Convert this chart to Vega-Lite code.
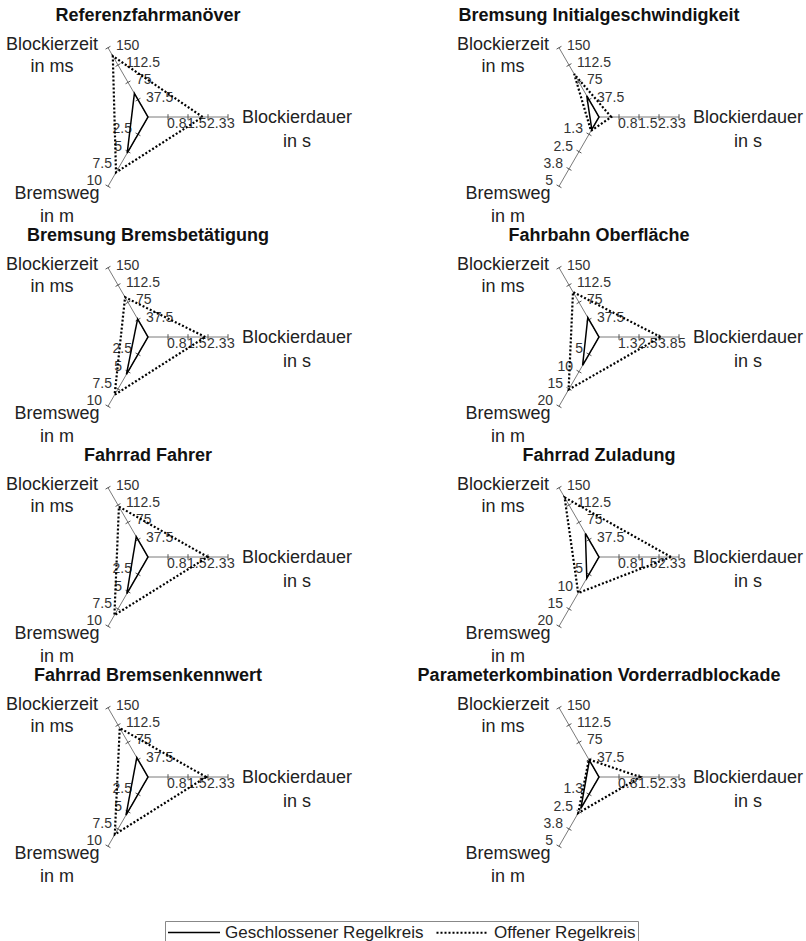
{
  "$schema": "https://vega.github.io/schema/vega-lite/v6.json",
  "padding": {"left": 0, "top": 7, "right": 0, "bottom": 0},
  "background": "white",
  "bounds": "flush",
  "config": {"font": "Liberation Sans", "view": {"stroke": null}},
  "data": {"values": [
    {"kind": "axis", "panel": "Referenzfahrmanöver", "axis": "Blockierzeit", "max": 150, "title": "Blockierzeit\nin ms"},
    {"kind": "axis", "panel": "Referenzfahrmanöver", "axis": "Blockierdauer", "max": 3, "title": "Blockierdauer\nin s"},
    {"kind": "axis", "panel": "Referenzfahrmanöver", "axis": "Bremsweg", "max": 10, "title": "Bremsweg\nin m"},
    {"kind": "axis", "panel": "Bremsung Initialgeschwindigkeit", "axis": "Blockierzeit", "max": 150, "title": "Blockierzeit\nin ms"},
    {"kind": "axis", "panel": "Bremsung Initialgeschwindigkeit", "axis": "Blockierdauer", "max": 3, "title": "Blockierdauer\nin s"},
    {"kind": "axis", "panel": "Bremsung Initialgeschwindigkeit", "axis": "Bremsweg", "max": 5, "title": "Bremsweg\nin m"},
    {"kind": "axis", "panel": "Bremsung Bremsbetätigung", "axis": "Blockierzeit", "max": 150, "title": "Blockierzeit\nin ms"},
    {"kind": "axis", "panel": "Bremsung Bremsbetätigung", "axis": "Blockierdauer", "max": 3, "title": "Blockierdauer\nin s"},
    {"kind": "axis", "panel": "Bremsung Bremsbetätigung", "axis": "Bremsweg", "max": 10, "title": "Bremsweg\nin m"},
    {"kind": "axis", "panel": "Fahrbahn Oberfläche", "axis": "Blockierzeit", "max": 150, "title": "Blockierzeit\nin ms"},
    {"kind": "axis", "panel": "Fahrbahn Oberfläche", "axis": "Blockierdauer", "max": 5, "title": "Blockierdauer\nin s"},
    {"kind": "axis", "panel": "Fahrbahn Oberfläche", "axis": "Bremsweg", "max": 20, "title": "Bremsweg\nin m"},
    {"kind": "axis", "panel": "Fahrrad Fahrer", "axis": "Blockierzeit", "max": 150, "title": "Blockierzeit\nin ms"},
    {"kind": "axis", "panel": "Fahrrad Fahrer", "axis": "Blockierdauer", "max": 3, "title": "Blockierdauer\nin s"},
    {"kind": "axis", "panel": "Fahrrad Fahrer", "axis": "Bremsweg", "max": 10, "title": "Bremsweg\nin m"},
    {"kind": "axis", "panel": "Fahrrad Zuladung", "axis": "Blockierzeit", "max": 150, "title": "Blockierzeit\nin ms"},
    {"kind": "axis", "panel": "Fahrrad Zuladung", "axis": "Blockierdauer", "max": 3, "title": "Blockierdauer\nin s"},
    {"kind": "axis", "panel": "Fahrrad Zuladung", "axis": "Bremsweg", "max": 20, "title": "Bremsweg\nin m"},
    {"kind": "axis", "panel": "Fahrrad Bremsenkennwert", "axis": "Blockierzeit", "max": 150, "title": "Blockierzeit\nin ms"},
    {"kind": "axis", "panel": "Fahrrad Bremsenkennwert", "axis": "Blockierdauer", "max": 3, "title": "Blockierdauer\nin s"},
    {"kind": "axis", "panel": "Fahrrad Bremsenkennwert", "axis": "Bremsweg", "max": 10, "title": "Bremsweg\nin m"},
    {"kind": "axis", "panel": "Parameterkombination Vorderradblockade", "axis": "Blockierzeit", "max": 150, "title": "Blockierzeit\nin ms"},
    {"kind": "axis", "panel": "Parameterkombination Vorderradblockade", "axis": "Blockierdauer", "max": 3, "title": "Blockierdauer\nin s"},
    {"kind": "axis", "panel": "Parameterkombination Vorderradblockade", "axis": "Bremsweg", "max": 5, "title": "Bremsweg\nin m"},

    {"kind": "tick", "panel": "Referenzfahrmanöver", "axis": "Blockierzeit", "value": 37.5, "label": "37.5"},
    {"kind": "tick", "panel": "Referenzfahrmanöver", "axis": "Blockierzeit", "value": 75, "label": "75"},
    {"kind": "tick", "panel": "Referenzfahrmanöver", "axis": "Blockierzeit", "value": 112.5, "label": "112.5"},
    {"kind": "tick", "panel": "Referenzfahrmanöver", "axis": "Blockierzeit", "value": 150, "label": "150"},
    {"kind": "tick", "panel": "Referenzfahrmanöver", "axis": "Blockierdauer", "value": 0.75, "label": "0.8"},
    {"kind": "tick", "panel": "Referenzfahrmanöver", "axis": "Blockierdauer", "value": 1.5, "label": "1.5"},
    {"kind": "tick", "panel": "Referenzfahrmanöver", "axis": "Blockierdauer", "value": 2.25, "label": "2.3"},
    {"kind": "tick", "panel": "Referenzfahrmanöver", "axis": "Blockierdauer", "value": 3, "label": "3"},
    {"kind": "tick", "panel": "Referenzfahrmanöver", "axis": "Bremsweg", "value": 2.5, "label": "2.5"},
    {"kind": "tick", "panel": "Referenzfahrmanöver", "axis": "Bremsweg", "value": 5, "label": "5"},
    {"kind": "tick", "panel": "Referenzfahrmanöver", "axis": "Bremsweg", "value": 7.5, "label": "7.5"},
    {"kind": "tick", "panel": "Referenzfahrmanöver", "axis": "Bremsweg", "value": 10, "label": "10"},

    {"kind": "tick", "panel": "Bremsung Initialgeschwindigkeit", "axis": "Blockierzeit", "value": 37.5, "label": "37.5"},
    {"kind": "tick", "panel": "Bremsung Initialgeschwindigkeit", "axis": "Blockierzeit", "value": 75, "label": "75"},
    {"kind": "tick", "panel": "Bremsung Initialgeschwindigkeit", "axis": "Blockierzeit", "value": 112.5, "label": "112.5"},
    {"kind": "tick", "panel": "Bremsung Initialgeschwindigkeit", "axis": "Blockierzeit", "value": 150, "label": "150"},
    {"kind": "tick", "panel": "Bremsung Initialgeschwindigkeit", "axis": "Blockierdauer", "value": 0.75, "label": "0.8"},
    {"kind": "tick", "panel": "Bremsung Initialgeschwindigkeit", "axis": "Blockierdauer", "value": 1.5, "label": "1.5"},
    {"kind": "tick", "panel": "Bremsung Initialgeschwindigkeit", "axis": "Blockierdauer", "value": 2.25, "label": "2.3"},
    {"kind": "tick", "panel": "Bremsung Initialgeschwindigkeit", "axis": "Blockierdauer", "value": 3, "label": "3"},
    {"kind": "tick", "panel": "Bremsung Initialgeschwindigkeit", "axis": "Bremsweg", "value": 1.25, "label": "1.3"},
    {"kind": "tick", "panel": "Bremsung Initialgeschwindigkeit", "axis": "Bremsweg", "value": 2.5, "label": "2.5"},
    {"kind": "tick", "panel": "Bremsung Initialgeschwindigkeit", "axis": "Bremsweg", "value": 3.75, "label": "3.8"},
    {"kind": "tick", "panel": "Bremsung Initialgeschwindigkeit", "axis": "Bremsweg", "value": 5, "label": "5"},

    {"kind": "tick", "panel": "Bremsung Bremsbetätigung", "axis": "Blockierzeit", "value": 37.5, "label": "37.5"},
    {"kind": "tick", "panel": "Bremsung Bremsbetätigung", "axis": "Blockierzeit", "value": 75, "label": "75"},
    {"kind": "tick", "panel": "Bremsung Bremsbetätigung", "axis": "Blockierzeit", "value": 112.5, "label": "112.5"},
    {"kind": "tick", "panel": "Bremsung Bremsbetätigung", "axis": "Blockierzeit", "value": 150, "label": "150"},
    {"kind": "tick", "panel": "Bremsung Bremsbetätigung", "axis": "Blockierdauer", "value": 0.75, "label": "0.8"},
    {"kind": "tick", "panel": "Bremsung Bremsbetätigung", "axis": "Blockierdauer", "value": 1.5, "label": "1.5"},
    {"kind": "tick", "panel": "Bremsung Bremsbetätigung", "axis": "Blockierdauer", "value": 2.25, "label": "2.3"},
    {"kind": "tick", "panel": "Bremsung Bremsbetätigung", "axis": "Blockierdauer", "value": 3, "label": "3"},
    {"kind": "tick", "panel": "Bremsung Bremsbetätigung", "axis": "Bremsweg", "value": 2.5, "label": "2.5"},
    {"kind": "tick", "panel": "Bremsung Bremsbetätigung", "axis": "Bremsweg", "value": 5, "label": "5"},
    {"kind": "tick", "panel": "Bremsung Bremsbetätigung", "axis": "Bremsweg", "value": 7.5, "label": "7.5"},
    {"kind": "tick", "panel": "Bremsung Bremsbetätigung", "axis": "Bremsweg", "value": 10, "label": "10"},

    {"kind": "tick", "panel": "Fahrbahn Oberfläche", "axis": "Blockierzeit", "value": 37.5, "label": "37.5"},
    {"kind": "tick", "panel": "Fahrbahn Oberfläche", "axis": "Blockierzeit", "value": 75, "label": "75"},
    {"kind": "tick", "panel": "Fahrbahn Oberfläche", "axis": "Blockierzeit", "value": 112.5, "label": "112.5"},
    {"kind": "tick", "panel": "Fahrbahn Oberfläche", "axis": "Blockierzeit", "value": 150, "label": "150"},
    {"kind": "tick", "panel": "Fahrbahn Oberfläche", "axis": "Blockierdauer", "value": 1.25, "label": "1.3"},
    {"kind": "tick", "panel": "Fahrbahn Oberfläche", "axis": "Blockierdauer", "value": 2.5, "label": "2.5"},
    {"kind": "tick", "panel": "Fahrbahn Oberfläche", "axis": "Blockierdauer", "value": 3.75, "label": "3.8"},
    {"kind": "tick", "panel": "Fahrbahn Oberfläche", "axis": "Blockierdauer", "value": 5, "label": "5"},
    {"kind": "tick", "panel": "Fahrbahn Oberfläche", "axis": "Bremsweg", "value": 5, "label": "5"},
    {"kind": "tick", "panel": "Fahrbahn Oberfläche", "axis": "Bremsweg", "value": 10, "label": "10"},
    {"kind": "tick", "panel": "Fahrbahn Oberfläche", "axis": "Bremsweg", "value": 15, "label": "15"},
    {"kind": "tick", "panel": "Fahrbahn Oberfläche", "axis": "Bremsweg", "value": 20, "label": "20"},

    {"kind": "tick", "panel": "Fahrrad Fahrer", "axis": "Blockierzeit", "value": 37.5, "label": "37.5"},
    {"kind": "tick", "panel": "Fahrrad Fahrer", "axis": "Blockierzeit", "value": 75, "label": "75"},
    {"kind": "tick", "panel": "Fahrrad Fahrer", "axis": "Blockierzeit", "value": 112.5, "label": "112.5"},
    {"kind": "tick", "panel": "Fahrrad Fahrer", "axis": "Blockierzeit", "value": 150, "label": "150"},
    {"kind": "tick", "panel": "Fahrrad Fahrer", "axis": "Blockierdauer", "value": 0.75, "label": "0.8"},
    {"kind": "tick", "panel": "Fahrrad Fahrer", "axis": "Blockierdauer", "value": 1.5, "label": "1.5"},
    {"kind": "tick", "panel": "Fahrrad Fahrer", "axis": "Blockierdauer", "value": 2.25, "label": "2.3"},
    {"kind": "tick", "panel": "Fahrrad Fahrer", "axis": "Blockierdauer", "value": 3, "label": "3"},
    {"kind": "tick", "panel": "Fahrrad Fahrer", "axis": "Bremsweg", "value": 2.5, "label": "2.5"},
    {"kind": "tick", "panel": "Fahrrad Fahrer", "axis": "Bremsweg", "value": 5, "label": "5"},
    {"kind": "tick", "panel": "Fahrrad Fahrer", "axis": "Bremsweg", "value": 7.5, "label": "7.5"},
    {"kind": "tick", "panel": "Fahrrad Fahrer", "axis": "Bremsweg", "value": 10, "label": "10"},

    {"kind": "tick", "panel": "Fahrrad Zuladung", "axis": "Blockierzeit", "value": 37.5, "label": "37.5"},
    {"kind": "tick", "panel": "Fahrrad Zuladung", "axis": "Blockierzeit", "value": 75, "label": "75"},
    {"kind": "tick", "panel": "Fahrrad Zuladung", "axis": "Blockierzeit", "value": 112.5, "label": "112.5"},
    {"kind": "tick", "panel": "Fahrrad Zuladung", "axis": "Blockierzeit", "value": 150, "label": "150"},
    {"kind": "tick", "panel": "Fahrrad Zuladung", "axis": "Blockierdauer", "value": 0.75, "label": "0.8"},
    {"kind": "tick", "panel": "Fahrrad Zuladung", "axis": "Blockierdauer", "value": 1.5, "label": "1.5"},
    {"kind": "tick", "panel": "Fahrrad Zuladung", "axis": "Blockierdauer", "value": 2.25, "label": "2.3"},
    {"kind": "tick", "panel": "Fahrrad Zuladung", "axis": "Blockierdauer", "value": 3, "label": "3"},
    {"kind": "tick", "panel": "Fahrrad Zuladung", "axis": "Bremsweg", "value": 5, "label": "5"},
    {"kind": "tick", "panel": "Fahrrad Zuladung", "axis": "Bremsweg", "value": 10, "label": "10"},
    {"kind": "tick", "panel": "Fahrrad Zuladung", "axis": "Bremsweg", "value": 15, "label": "15"},
    {"kind": "tick", "panel": "Fahrrad Zuladung", "axis": "Bremsweg", "value": 20, "label": "20"},

    {"kind": "tick", "panel": "Fahrrad Bremsenkennwert", "axis": "Blockierzeit", "value": 37.5, "label": "37.5"},
    {"kind": "tick", "panel": "Fahrrad Bremsenkennwert", "axis": "Blockierzeit", "value": 75, "label": "75"},
    {"kind": "tick", "panel": "Fahrrad Bremsenkennwert", "axis": "Blockierzeit", "value": 112.5, "label": "112.5"},
    {"kind": "tick", "panel": "Fahrrad Bremsenkennwert", "axis": "Blockierzeit", "value": 150, "label": "150"},
    {"kind": "tick", "panel": "Fahrrad Bremsenkennwert", "axis": "Blockierdauer", "value": 0.75, "label": "0.8"},
    {"kind": "tick", "panel": "Fahrrad Bremsenkennwert", "axis": "Blockierdauer", "value": 1.5, "label": "1.5"},
    {"kind": "tick", "panel": "Fahrrad Bremsenkennwert", "axis": "Blockierdauer", "value": 2.25, "label": "2.3"},
    {"kind": "tick", "panel": "Fahrrad Bremsenkennwert", "axis": "Blockierdauer", "value": 3, "label": "3"},
    {"kind": "tick", "panel": "Fahrrad Bremsenkennwert", "axis": "Bremsweg", "value": 2.5, "label": "2.5"},
    {"kind": "tick", "panel": "Fahrrad Bremsenkennwert", "axis": "Bremsweg", "value": 5, "label": "5"},
    {"kind": "tick", "panel": "Fahrrad Bremsenkennwert", "axis": "Bremsweg", "value": 7.5, "label": "7.5"},
    {"kind": "tick", "panel": "Fahrrad Bremsenkennwert", "axis": "Bremsweg", "value": 10, "label": "10"},

    {"kind": "tick", "panel": "Parameterkombination Vorderradblockade", "axis": "Blockierzeit", "value": 37.5, "label": "37.5"},
    {"kind": "tick", "panel": "Parameterkombination Vorderradblockade", "axis": "Blockierzeit", "value": 75, "label": "75"},
    {"kind": "tick", "panel": "Parameterkombination Vorderradblockade", "axis": "Blockierzeit", "value": 112.5, "label": "112.5"},
    {"kind": "tick", "panel": "Parameterkombination Vorderradblockade", "axis": "Blockierzeit", "value": 150, "label": "150"},
    {"kind": "tick", "panel": "Parameterkombination Vorderradblockade", "axis": "Blockierdauer", "value": 0.75, "label": "0.8"},
    {"kind": "tick", "panel": "Parameterkombination Vorderradblockade", "axis": "Blockierdauer", "value": 1.5, "label": "1.5"},
    {"kind": "tick", "panel": "Parameterkombination Vorderradblockade", "axis": "Blockierdauer", "value": 2.25, "label": "2.3"},
    {"kind": "tick", "panel": "Parameterkombination Vorderradblockade", "axis": "Blockierdauer", "value": 3, "label": "3"},
    {"kind": "tick", "panel": "Parameterkombination Vorderradblockade", "axis": "Bremsweg", "value": 1.25, "label": "1.3"},
    {"kind": "tick", "panel": "Parameterkombination Vorderradblockade", "axis": "Bremsweg", "value": 2.5, "label": "2.5"},
    {"kind": "tick", "panel": "Parameterkombination Vorderradblockade", "axis": "Bremsweg", "value": 3.75, "label": "3.8"},
    {"kind": "tick", "panel": "Parameterkombination Vorderradblockade", "axis": "Bremsweg", "value": 5, "label": "5"},

    {"kind": "val", "panel": "Referenzfahrmanöver", "series": "Geschlossener Regelkreis", "axis": "Blockierzeit", "value": 51},
    {"kind": "val", "panel": "Referenzfahrmanöver", "series": "Geschlossener Regelkreis", "axis": "Blockierdauer", "value": 0},
    {"kind": "val", "panel": "Referenzfahrmanöver", "series": "Geschlossener Regelkreis", "axis": "Bremsweg", "value": 5.2},
    {"kind": "val", "panel": "Referenzfahrmanöver", "series": "Offener Regelkreis", "axis": "Blockierzeit", "value": 132},
    {"kind": "val", "panel": "Referenzfahrmanöver", "series": "Offener Regelkreis", "axis": "Blockierdauer", "value": 2.05},
    {"kind": "val", "panel": "Referenzfahrmanöver", "series": "Offener Regelkreis", "axis": "Bremsweg", "value": 8.0},

    {"kind": "val", "panel": "Bremsung Initialgeschwindigkeit", "series": "Geschlossener Regelkreis", "axis": "Blockierzeit", "value": 46},
    {"kind": "val", "panel": "Bremsung Initialgeschwindigkeit", "series": "Geschlossener Regelkreis", "axis": "Blockierdauer", "value": 0},
    {"kind": "val", "panel": "Bremsung Initialgeschwindigkeit", "series": "Geschlossener Regelkreis", "axis": "Bremsweg", "value": 0.9},
    {"kind": "val", "panel": "Bremsung Initialgeschwindigkeit", "series": "Offener Regelkreis", "axis": "Blockierzeit", "value": 93},
    {"kind": "val", "panel": "Bremsung Initialgeschwindigkeit", "series": "Offener Regelkreis", "axis": "Blockierdauer", "value": 0.46},
    {"kind": "val", "panel": "Bremsung Initialgeschwindigkeit", "series": "Offener Regelkreis", "axis": "Bremsweg", "value": 1.0},

    {"kind": "val", "panel": "Bremsung Bremsbetätigung", "series": "Geschlossener Regelkreis", "axis": "Blockierzeit", "value": 39},
    {"kind": "val", "panel": "Bremsung Bremsbetätigung", "series": "Geschlossener Regelkreis", "axis": "Blockierdauer", "value": 0},
    {"kind": "val", "panel": "Bremsung Bremsbetätigung", "series": "Geschlossener Regelkreis", "axis": "Bremsweg", "value": 5.4},
    {"kind": "val", "panel": "Bremsung Bremsbetätigung", "series": "Offener Regelkreis", "axis": "Blockierzeit", "value": 86},
    {"kind": "val", "panel": "Bremsung Bremsbetätigung", "series": "Offener Regelkreis", "axis": "Blockierdauer", "value": 2.15},
    {"kind": "val", "panel": "Bremsung Bremsbetätigung", "series": "Offener Regelkreis", "axis": "Bremsweg", "value": 8.35},

    {"kind": "val", "panel": "Fahrbahn Oberfläche", "series": "Geschlossener Regelkreis", "axis": "Blockierzeit", "value": 42},
    {"kind": "val", "panel": "Fahrbahn Oberfläche", "series": "Geschlossener Regelkreis", "axis": "Blockierdauer", "value": 0},
    {"kind": "val", "panel": "Fahrbahn Oberfläche", "series": "Geschlossener Regelkreis", "axis": "Bremsweg", "value": 8.2},
    {"kind": "val", "panel": "Fahrbahn Oberfläche", "series": "Offener Regelkreis", "axis": "Blockierzeit", "value": 97.5},
    {"kind": "val", "panel": "Fahrbahn Oberfläche", "series": "Offener Regelkreis", "axis": "Blockierdauer", "value": 3.85},
    {"kind": "val", "panel": "Fahrbahn Oberfläche", "series": "Offener Regelkreis", "axis": "Bremsweg", "value": 15.2},

    {"kind": "val", "panel": "Fahrrad Fahrer", "series": "Geschlossener Regelkreis", "axis": "Blockierzeit", "value": 44},
    {"kind": "val", "panel": "Fahrrad Fahrer", "series": "Geschlossener Regelkreis", "axis": "Blockierdauer", "value": 0},
    {"kind": "val", "panel": "Fahrrad Fahrer", "series": "Geschlossener Regelkreis", "axis": "Bremsweg", "value": 5.3},
    {"kind": "val", "panel": "Fahrrad Fahrer", "series": "Offener Regelkreis", "axis": "Blockierzeit", "value": 109},
    {"kind": "val", "panel": "Fahrrad Fahrer", "series": "Offener Regelkreis", "axis": "Blockierdauer", "value": 2.24},
    {"kind": "val", "panel": "Fahrrad Fahrer", "series": "Offener Regelkreis", "axis": "Bremsweg", "value": 8.4},

    {"kind": "val", "panel": "Fahrrad Zuladung", "series": "Geschlossener Regelkreis", "axis": "Blockierzeit", "value": 51},
    {"kind": "val", "panel": "Fahrrad Zuladung", "series": "Geschlossener Regelkreis", "axis": "Blockierdauer", "value": 0},
    {"kind": "val", "panel": "Fahrrad Zuladung", "series": "Geschlossener Regelkreis", "axis": "Bremsweg", "value": 6.1},
    {"kind": "val", "panel": "Fahrrad Zuladung", "series": "Offener Regelkreis", "axis": "Blockierzeit", "value": 129},
    {"kind": "val", "panel": "Fahrrad Zuladung", "series": "Offener Regelkreis", "axis": "Blockierdauer", "value": 2.7},
    {"kind": "val", "panel": "Fahrrad Zuladung", "series": "Offener Regelkreis", "axis": "Bremsweg", "value": 10.4},

    {"kind": "val", "panel": "Fahrrad Bremsenkennwert", "series": "Geschlossener Regelkreis", "axis": "Blockierzeit", "value": 42},
    {"kind": "val", "panel": "Fahrrad Bremsenkennwert", "series": "Geschlossener Regelkreis", "axis": "Blockierdauer", "value": 0},
    {"kind": "val", "panel": "Fahrrad Bremsenkennwert", "series": "Geschlossener Regelkreis", "axis": "Bremsweg", "value": 5.5},
    {"kind": "val", "panel": "Fahrrad Bremsenkennwert", "series": "Offener Regelkreis", "axis": "Blockierzeit", "value": 106},
    {"kind": "val", "panel": "Fahrrad Bremsenkennwert", "series": "Offener Regelkreis", "axis": "Blockierdauer", "value": 2.18},
    {"kind": "val", "panel": "Fahrrad Bremsenkennwert", "series": "Offener Regelkreis", "axis": "Bremsweg", "value": 8.3},

    {"kind": "val", "panel": "Parameterkombination Vorderradblockade", "series": "Geschlossener Regelkreis", "axis": "Blockierzeit", "value": 36},
    {"kind": "val", "panel": "Parameterkombination Vorderradblockade", "series": "Geschlossener Regelkreis", "axis": "Blockierdauer", "value": 0},
    {"kind": "val", "panel": "Parameterkombination Vorderradblockade", "series": "Geschlossener Regelkreis", "axis": "Bremsweg", "value": 2.27},
    {"kind": "val", "panel": "Parameterkombination Vorderradblockade", "series": "Offener Regelkreis", "axis": "Blockierzeit", "value": 38},
    {"kind": "val", "panel": "Parameterkombination Vorderradblockade", "series": "Offener Regelkreis", "axis": "Blockierdauer", "value": 1.55},
    {"kind": "val", "panel": "Parameterkombination Vorderradblockade", "series": "Offener Regelkreis", "axis": "Bremsweg", "value": 2.6}
  ]},
  "transform": [
    {"joinaggregate": [{"op": "max", "field": "max", "as": "amax"}], "groupby": ["panel", "axis"]},
    {"calculate": "datum.axis === 'Blockierdauer' ? 0 : (datum.axis === 'Blockierzeit' ? 2 * PI / 3 : 4 * PI / 3)", "as": "ang"},
    {"calculate": "datum.kind === 'axis' ? 1 : datum.value / datum.amax", "as": "f"},
    {"calculate": "datum.f * cos(datum.ang)", "as": "x"},
    {"calculate": "datum.f * sin(datum.ang)", "as": "y"},
    {"calculate": "datum.x - 0.035 * sin(datum.ang)", "as": "tx1"},
    {"calculate": "datum.y + 0.035 * cos(datum.ang)", "as": "ty1"},
    {"calculate": "datum.x + 0.035 * sin(datum.ang)", "as": "tx2"},
    {"calculate": "datum.y - 0.035 * cos(datum.ang)", "as": "ty2"}
  ],
  "facet": {
    "field": "panel",
    "type": "nominal",
    "sort": ["Referenzfahrmanöver", "Bremsung Initialgeschwindigkeit", "Bremsung Bremsbetätigung", "Fahrbahn Oberfläche", "Fahrrad Fahrer", "Fahrrad Zuladung", "Fahrrad Bremsenkennwert", "Parameterkombination Vorderradblockade"],
    "header": {"title": null, "labelFont": "Liberation Sans", "labelFontSize": 18, "labelFontWeight": "bold", "labelColor": "#111", "labelPadding": 4}
  },
  "columns": 2,
  "spacing": {"row": 32, "column": 155},
  "spec": {
    "width": 296,
    "height": 188,
    "layer": [
      {
        "transform": [{"filter": "datum.kind === 'axis'"}],
        "mark": {"type": "rule", "color": "#7a7a7a", "strokeWidth": 1},
        "encoding": {
          "x": {"field": "x", "type": "quantitative", "scale": {"domain": [-1.85, 1.85], "nice": false, "zero": false}, "axis": null},
          "y": {"field": "y", "type": "quantitative", "scale": {"domain": [-1.25, 1.1], "nice": false, "zero": false}, "axis": null},
          "x2": {"datum": 0},
          "y2": {"datum": 0}
        }
      },
      {
        "transform": [{"filter": "datum.kind === 'tick'"}],
        "mark": {"type": "rule", "color": "#555", "strokeWidth": 1},
        "encoding": {
          "x": {"field": "tx1", "type": "quantitative"},
          "y": {"field": "ty1", "type": "quantitative"},
          "x2": {"field": "tx2"},
          "y2": {"field": "ty2"}
        }
      },
      {
        "transform": [{"filter": "datum.kind === 'tick' && datum.axis === 'Blockierzeit'"}],
        "mark": {"type": "text", "align": "left", "baseline": "middle", "dx": 8, "dy": -2, "fontSize": 14, "color": "#333"},
        "encoding": {
          "x": {"field": "x", "type": "quantitative"},
          "y": {"field": "y", "type": "quantitative"},
          "text": {"field": "label"}
        }
      },
      {
        "transform": [{"filter": "datum.kind === 'tick' && datum.axis === 'Blockierdauer'"}],
        "mark": {"type": "text", "align": "left", "baseline": "middle", "dx": -1, "dy": 7, "fontSize": 14, "color": "#333"},
        "encoding": {
          "x": {"field": "x", "type": "quantitative"},
          "y": {"field": "y", "type": "quantitative"},
          "text": {"field": "label"}
        }
      },
      {
        "transform": [{"filter": "datum.kind === 'tick' && datum.axis === 'Bremsweg'"}],
        "mark": {"type": "text", "align": "right", "baseline": "middle", "dx": -6, "dy": -5, "fontSize": 14, "color": "#333"},
        "encoding": {
          "x": {"field": "x", "type": "quantitative"},
          "y": {"field": "y", "type": "quantitative"},
          "text": {"field": "label"}
        }
      },
      {
        "transform": [{"filter": "datum.kind === 'axis' && datum.axis === 'Blockierzeit'"}],
        "mark": {"type": "text", "align": "center", "baseline": "top", "lineBreak": "\n", "lineHeight": 22, "dx": -56, "dy": -12, "fontSize": 18, "color": "#222"},
        "encoding": {
          "x": {"field": "x", "type": "quantitative"},
          "y": {"field": "y", "type": "quantitative"},
          "text": {"field": "title"}
        }
      },
      {
        "transform": [{"filter": "datum.kind === 'axis' && datum.axis === 'Blockierdauer'"}],
        "mark": {"type": "text", "align": "center", "baseline": "top", "lineBreak": "\n", "lineHeight": 24, "dx": 69, "dy": -8, "fontSize": 18, "color": "#222"},
        "encoding": {
          "x": {"field": "x", "type": "quantitative"},
          "y": {"field": "y", "type": "quantitative"},
          "text": {"field": "title"}
        }
      },
      {
        "transform": [{"filter": "datum.kind === 'axis' && datum.axis === 'Bremsweg'"}],
        "mark": {"type": "text", "align": "center", "baseline": "top", "lineBreak": "\n", "lineHeight": 23, "dx": -51, "dy": -1, "fontSize": 18, "color": "#222"},
        "encoding": {
          "x": {"field": "x", "type": "quantitative"},
          "y": {"field": "y", "type": "quantitative"},
          "text": {"field": "title"}
        }
      },
      {
        "transform": [{"filter": "datum.kind === 'val'"}],
        "mark": {"type": "line", "interpolate": "linear-closed", "color": "black", "strokeCap": "butt"},
        "encoding": {
          "x": {"field": "x", "type": "quantitative"},
          "y": {"field": "y", "type": "quantitative"},
          "detail": {"field": "series"},
          "order": {"field": "ang"},
          "strokeWidth": {
            "field": "series", "type": "nominal",
            "scale": {"domain": ["Geschlossener Regelkreis", "Offener Regelkreis"], "range": [1.5, 2.2]},
            "legend": null
          },
          "strokeDash": {
            "field": "series", "type": "nominal",
            "scale": {"domain": ["Geschlossener Regelkreis", "Offener Regelkreis"], "range": [[1, 0], [2, 2]]},
            "legend": {"orient": "none", "legendX": 165, "legendY": 892, "direction": "horizontal", "title": null, "symbolType": "M-1,0H5.5", "symbolSize": 256, "symbolStrokeColor": "black", "symbolStrokeWidth": 1.8, "labelFont": "Liberation Sans", "labelFontSize": 17, "labelLimit": 400, "labelColor": "#222", "strokeColor": "#888", "fillColor": "white", "padding": 2, "columnPadding": 8, "labelOffset": 40}
          }
        }
      }
    ]
  }
}
